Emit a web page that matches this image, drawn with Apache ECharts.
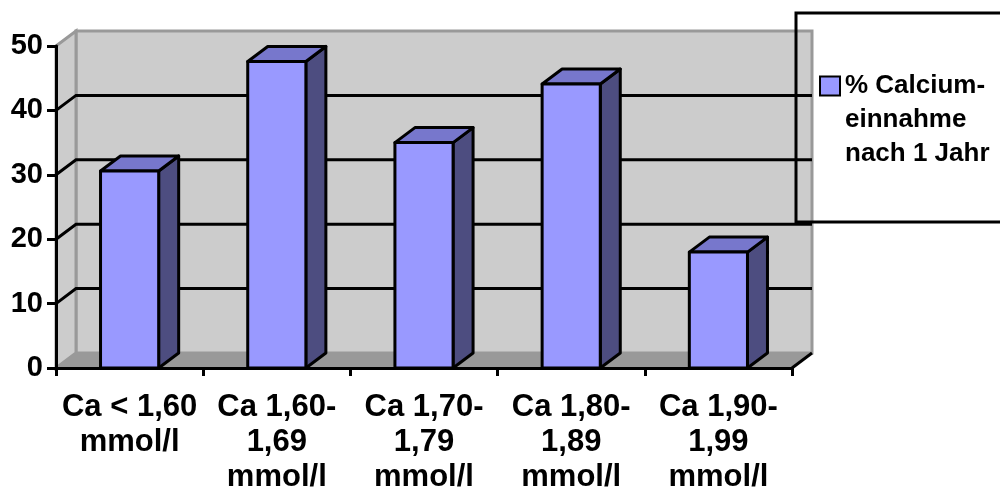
<!DOCTYPE html>
<html>
<head>
<meta charset="utf-8">
<script src="https://cdn.jsdelivr.net/npm/echarts@6/dist/echarts.min.js"></script>
<style>
  html, body { margin: 0; padding: 0; background: #ffffff; }
  #chart { width: 1000px; height: 495px; }
</style>
</head>
<body>
<div id="chart"></div>
<script>
// Calcium intake after one year, grouped by serum calcium range
const categories = [
  'Ca < 1,60\nmmol/l',
  'Ca 1,60-\n1,69\nmmol/l',
  'Ca 1,70-\n1,79\nmmol/l',
  'Ca 1,80-\n1,89\nmmol/l',
  'Ca 1,90-\n1,99\nmmol/l'
];
const seriesName = '% Calcium-\neinnahme\nnach 1 Jahr';
const values = [30.6, 47.6, 35.0, 44.1, 18.0];
const yTicks = [0, 10, 20, 30, 40, 50];

// depth offset of the pseudo-3D box (pixels)
const DX = 20, DY = -15;
const FONT = '"Liberation Sans", Arial, Helvetica, sans-serif';
const LINE = 3;

// back wall, side wall, floor and gridlines, placed through the grid's value scale
function renderWalls(params, api) {
  const cs = params.coordSys;
  const L = cs.x, R = cs.x + cs.width, T = cs.y, B = cs.y + cs.height;
  const children = [
    { type: 'rect', shape: { x: L + DX, y: T + DY, width: R - L, height: B - T },
      style: { fill: '#cccccc', stroke: '#999999', lineWidth: LINE } },
    { type: 'polygon', shape: { points: [[L, T], [L + DX, T + DY], [L + DX, B + DY], [L, B]] },
      style: { fill: '#cccccc', stroke: '#999999', lineWidth: LINE } },
    { type: 'polygon', shape: { points: [[L, B], [L + DX, B + DY], [R + DX, B + DY], [R, B]] },
      style: { fill: '#999999', stroke: null } }
  ];
  yTicks.slice(1, -1).forEach(function (v) {
    const y = api.coord([0, v])[1];
    children.push({ type: 'polyline',
      shape: { points: [[L, y], [L + DX, y + DY], [R + DX, y + DY]] },
      style: { stroke: '#000000', lineWidth: LINE, fill: null } });
  });
  children.push({ type: 'line', shape: { x1: R, y1: B, x2: R + DX, y2: B + DY },
    style: { stroke: '#000000', lineWidth: LINE } });
  return { type: 'group', children: children };
}

// one 3D column: side, top, front faces
function renderBar(params, api) {
  const top = api.coord([api.value(0), api.value(1)]);
  const base = api.coord([api.value(0), 0]);
  const w = api.size([1, 0])[0] * 0.395;
  const x0 = top[0] - w / 2, x1 = top[0] + w / 2, yt = top[1], yb = base[1];
  const edge = { stroke: '#000000', lineWidth: LINE, lineJoin: 'round' };
  return { type: 'group', children: [
    { type: 'polygon', shape: { points: [[x1, yt], [x1 + DX, yt + DY], [x1 + DX, yb + DY], [x1, yb]] },
      style: Object.assign({ fill: '#4d4d80' }, edge) },
    { type: 'polygon', shape: { points: [[x0, yt], [x0 + DX, yt + DY], [x1 + DX, yt + DY], [x1, yt]] },
      style: Object.assign({ fill: '#7777cc' }, edge) },
    { type: 'rect', shape: { x: x0, y: yt, width: w, height: yb - yt },
      style: Object.assign({ fill: '#9999ff' }, edge) }
  ]};
}

const chart = echarts.init(document.getElementById('chart'), null, { renderer: 'canvas' });
chart.setOption({
  animation: false,
  backgroundColor: '#ffffff',
  grid: { left: 56, right: 208, top: 46, bottom: 125 },
  graphic: [
    { type: 'rect', z: 0, shape: { x: 796, y: 13, width: 260, height: 209 },
      style: { fill: '#ffffff', stroke: null } },
    { type: 'rect', z: 100, shape: { x: 796, y: 13, width: 260, height: 209 },
      style: { fill: null, stroke: '#000000', lineWidth: LINE } }
  ],
  legend: {
    data: [seriesName],
    left: 819, top: 1, padding: 0,
    icon: 'rect', itemWidth: 20, itemHeight: 19, itemGap: 5,
    itemStyle: { color: '#9999ff', borderColor: '#000000', borderWidth: 2 },
    // two leading blank lines keep the first text line level with the swatch
    formatter: function (name) { return '\n\n' + name; },
    textStyle: { fontFamily: FONT, fontWeight: 'bold', fontSize: 26, color: '#000000',
      lineHeight: 34 }
  },
  xAxis: {
    type: 'category', data: categories, z: 10,
    axisLine: { lineStyle: { color: '#000000', width: LINE } },
    axisTick: { show: true, length: 8, lineStyle: { color: '#000000', width: LINE } },
    axisLabel: { interval: 0, margin: 22, fontFamily: FONT, fontWeight: 'bold', fontSize: 31,
      lineHeight: 35, color: '#000000' },
    splitLine: { show: false }
  },
  yAxis: {
    type: 'value', min: yTicks[0], max: yTicks[yTicks.length - 1], interval: 10, z: 10,
    axisLine: { show: true, lineStyle: { color: '#000000', width: LINE } },
    axisTick: { show: true, length: 9, lineStyle: { color: '#000000', width: LINE } },
    axisLabel: { margin: 13, fontFamily: FONT, fontWeight: 'bold', fontSize: 29, color: '#000000' },
    splitLine: { show: false }
  },
  series: [
    { type: 'custom', name: 'walls', z: 1, silent: true, renderItem: renderWalls, data: [[0, 0]] },
    { type: 'custom', name: seriesName, z: 3, renderItem: renderBar,
      itemStyle: { color: '#9999ff' },
      data: values.map(function (v, i) { return [i, v]; }) }
  ]
});
</script>
</body>
</html>
